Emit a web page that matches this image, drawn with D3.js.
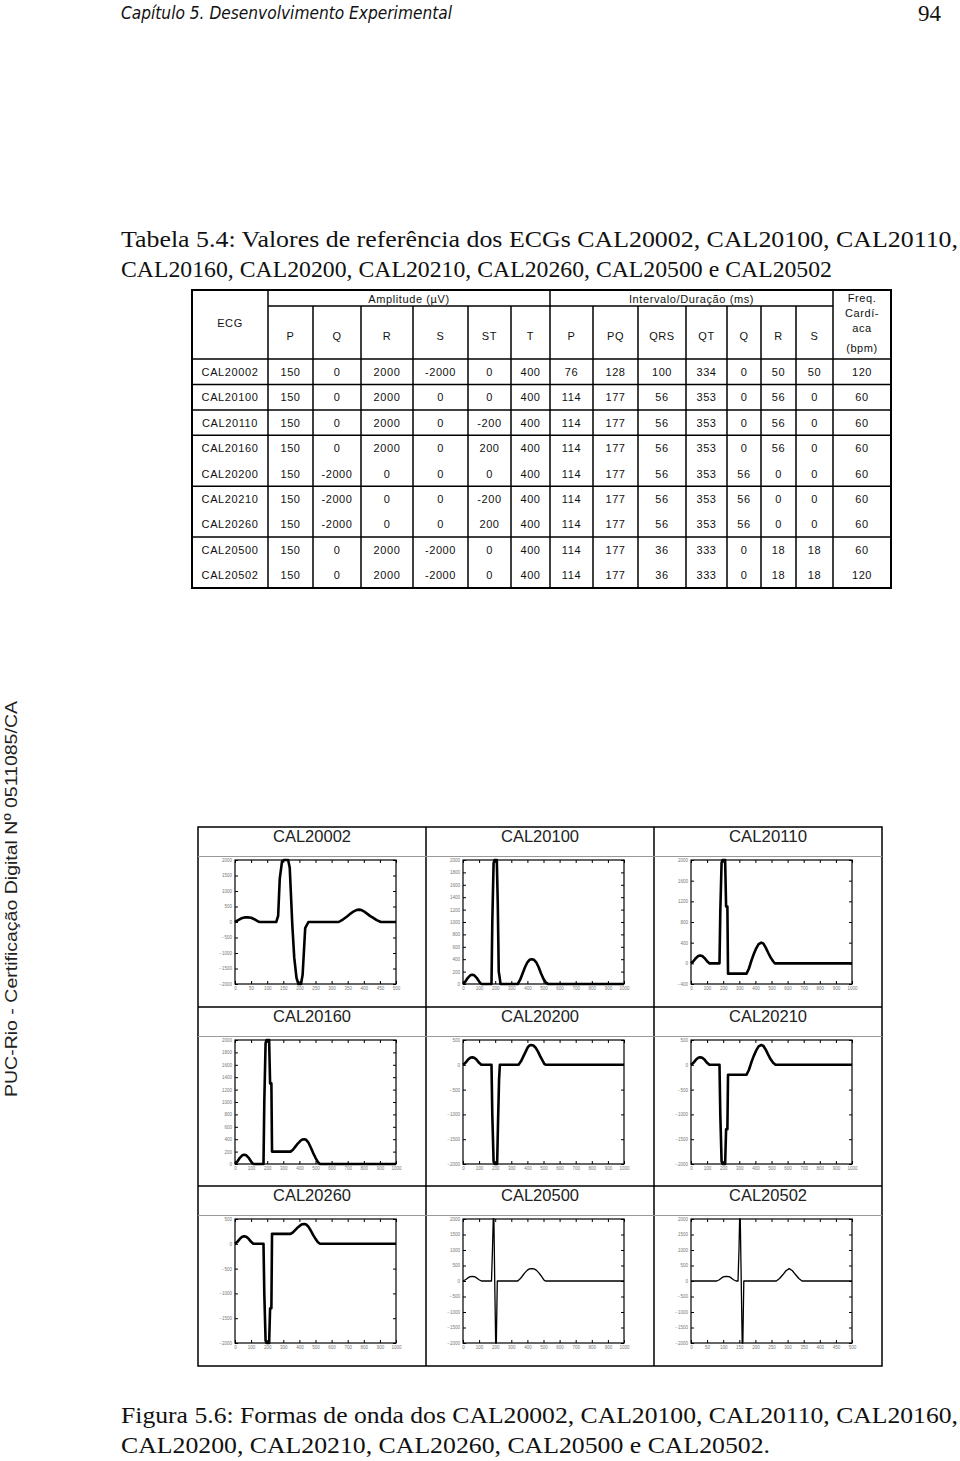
<!DOCTYPE html>
<html><head><meta charset="utf-8">
<script src="https://cdn.jsdelivr.net/npm/d3@7"></script>
<style>body{margin:0;background:#fff}svg{display:block}</style>
</head><body><svg id="c" width="960" height="1461"></svg>
<script>
// ---------------- DATA ----------------
const ecgNames = ["CAL20002","CAL20100","CAL20110","CAL20160","CAL20200","CAL20210","CAL20260","CAL20500","CAL20502"];
const ampP  = [150,150,150,150,150,150,150,150,150];
const ampQ  = [0,0,0,0,-2000,-2000,-2000,0,0];
const ampR  = [2000,2000,2000,2000,0,0,0,2000,2000];
const ampS  = [-2000,0,0,0,0,0,0,-2000,-2000];
const ampST = [0,0,-200,200,0,-200,200,0,0];
const ampT  = [400,400,400,400,400,400,400,400,400];
const durP  = [76,114,114,114,114,114,114,114,114];
const durPQ = [128,177,177,177,177,177,177,177,177];
const durQRS= [100,56,56,56,56,56,56,36,36];
const durQT = [334,353,353,353,353,353,353,333,333];
const durQ  = [0,0,0,0,56,56,56,0,0];
const durR  = [50,56,56,56,0,0,0,18,18];
const durS  = [50,0,0,0,0,0,0,18,18];
const heartRate = [120,60,60,60,60,60,60,60,120];
const ampHeaders = ["P","Q","R","S","ST","T"];
const durHeaders = ["P","PQ","QRS","QT","Q","R","S"];

// waveform panels: [time ms, amplitude uV]
const wave20002 = [[0,0],[10,60],[20,120],[30,148],[40,150],[50,135],[60,90],[70,30],[76,0],[128,0],[134,200],[139,1400],[146,1950],[152,2000],[165,2000],[170,1750],[178,-100],[184,-1150],[191,-1800],[197,-2000],[205,-2000],[210,-1700],[218,-200],[228,0],[322,0],[335,80],[348,180],[360,280],[369,345],[377,385],[385,400],[393,385],[400,345],[410,270],[420,190],[427,150],[440,60],[453,0],[500,0]];
const wave20100 = [[0,0],[15,40],[30,100],[45,140],[57,150],[70,140],[85,100],[100,40],[114,0],[177,0],[182,1000],[190,1950],[196,2000],[210,2000],[216,1300],[222,200],[228,100],[233,0],[340,0],[355,70],[370,170],[385,270],[400,350],[413,390],[427,400],[441,390],[455,350],[470,270],[485,170],[500,80],[515,20],[530,0],[1000,0]];
const wave20110 = [[0,0],[15,40],[30,100],[45,140],[57,150],[70,140],[85,100],[100,40],[114,0],[177,0],[182,1000],[190,1950],[196,2000],[212,2000],[218,1100],[226,1100],[230,-200],[345,-200],[360,-100],[375,50],[390,180],[405,290],[420,370],[437,400],[450,380],[465,300],[480,200],[495,110],[510,40],[521,0],[1000,0]];
const wave20160 = [[0,0],[15,40],[30,100],[45,140],[57,150],[70,140],[85,100],[100,40],[114,0],[177,0],[182,1000],[190,1950],[196,2000],[212,2000],[218,1300],[226,1300],[230,200],[345,200],[360,230],[375,280],[390,330],[405,370],[418,395],[430,400],[442,390],[455,350],[470,270],[485,180],[500,100],[515,30],[528,0],[1000,0]];
const wave20200 = [[0,0],[15,40],[30,100],[45,140],[57,150],[70,140],[85,100],[100,40],[114,0],[177,0],[182,-1000],[190,-1950],[196,-2000],[212,-2000],[218,-1100],[224,-300],[229,0],[345,0],[360,70],[375,170],[390,270],[402,350],[413,390],[425,400],[437,390],[450,350],[465,270],[480,170],[495,80],[505,20],[515,0],[1000,0]];
const wave20210 = [[0,0],[15,40],[30,100],[45,140],[57,150],[70,140],[85,100],[100,40],[114,0],[177,0],[182,-1000],[190,-1950],[196,-2000],[212,-2000],[218,-1300],[226,-1300],[230,-200],[345,-200],[360,-100],[375,50],[390,180],[405,290],[420,370],[437,400],[450,380],[465,300],[480,200],[495,110],[510,40],[525,0],[1000,0]];
const wave20260 = [[0,0],[15,40],[30,100],[45,140],[57,150],[70,140],[85,100],[100,40],[114,0],[177,0],[182,-1000],[190,-1950],[196,-2000],[212,-2000],[218,-1300],[226,-1300],[230,200],[345,200],[360,230],[375,280],[390,330],[405,370],[418,395],[430,400],[442,390],[455,350],[470,270],[485,180],[500,100],[515,30],[528,0],[1000,0]];
const wave20500 = [[0,0],[15,40],[30,100],[45,140],[57,150],[70,140],[85,100],[100,40],[114,0],[177,0],[183,1000],[188,2000],[192,2000],[197,0],[203,-2000],[207,-2000],[213,0],[340,0],[355,70],[370,170],[385,270],[400,350],[413,390],[427,400],[441,390],[455,350],[470,270],[485,170],[497,80],[505,20],[512,0],[1000,0]];
const wave20502 = [[0,0],[80,0],[88,40],[95,100],[102,140],[110,150],[118,140],[125,100],[132,40],[140,0],[146,0],[149,1000],[151,2000],[153,2000],[156,0],[159,-2000],[161,-2000],[164,0],[265,0],[275,80],[285,200],[295,330],[305,400],[315,330],[325,200],[335,80],[345,0],[500,0]];

const panelNames = ["CAL20002","CAL20100","CAL20110","CAL20160","CAL20200","CAL20210","CAL20260","CAL20500","CAL20502"];
const panelWaves = [wave20002,wave20100,wave20110,wave20160,wave20200,wave20210,wave20260,wave20500,wave20502];
const panelXMax  = [500,1000,1000,1000,1000,1000,1000,1000,500];
const panelXStep = [50,100,100,100,100,100,100,100,50];
const panelYMin  = [-2000,0,-400,0,-2000,-2000,-2000,-2000,-2000];
const panelYMax  = [2000,2000,2000,2000,500,500,500,2000,2000];
const panelYStep = [500,200,400,200,500,500,500,500,500];

// ---------------- DRAW ----------------
const svg = d3.select("#c");
svg.append("rect").attr("width",960).attr("height",1461).attr("fill","#fff");
const serif = "'Liberation Serif','DejaVu Serif',serif";
const sans = "'Liberation Sans',Arial,sans-serif";

// running header
svg.append("text").attr("x",121).attr("y",19).attr("font-family","'DejaVu Sans',sans-serif")
  .attr("font-style","italic").attr("font-size",17).attr("fill","#111")
  .attr("textLength",331).attr("lengthAdjust","spacingAndGlyphs")
  .text("Capítulo 5.  Desenvolvimento Experimental");
svg.append("text").attr("x",941).attr("y",21).attr("text-anchor","end").attr("font-family",serif)
  .attr("font-size",23).attr("fill","#111").text("94");

// side stamp
svg.append("text").attr("transform","translate(17,1097) rotate(-90)").attr("font-family",sans)
  .attr("font-size",17).attr("fill","#222").attr("textLength",396).attr("lengthAdjust","spacingAndGlyphs")
  .text("PUC-Rio - Certificação Digital Nº 0511085/CA");

function captionLine(text, y, w){
  svg.append("text").attr("x",121).attr("y",y).attr("font-family",serif)
    .attr("font-size",23).attr("fill","#111")
    .attr("textLength",w).attr("lengthAdjust","spacingAndGlyphs").text(text);
}
captionLine("Tabela 5.4: Valores de referência dos ECGs CAL20002, CAL20100, CAL20110,",247,837);
captionLine("CAL20160, CAL20200, CAL20210, CAL20260, CAL20500 e CAL20502",277,711);
captionLine("Figura 5.6: Formas de onda dos CAL20002, CAL20100, CAL20110, CAL20160,",1423,837);
captionLine("CAL20200, CAL20210, CAL20260, CAL20500 e CAL20502.",1453,649);

// ---------- table ----------
const colEdges = [192,268,313,361,413,468,511,550,593,638,686,727,761,796,833,891];
const tTop=290, tSub=306, tHead=359, rowH=(588-359)/9;
const tb = svg.append("g").attr("font-family",sans).attr("font-size",11).attr("fill","#111");
const rowY = i => tHead + rowH*i;
const ctr = c => (colEdges[c]+colEdges[c+1])/2;
tb.append("rect").attr("x",colEdges[0]).attr("y",tTop).attr("width",colEdges[15]-colEdges[0])
  .attr("height",rowY(9)-tTop).attr("fill","none").attr("stroke","#000").attr("stroke-width",2);
colEdges.slice(1,15).forEach((xv,i)=>{
  const c=i+1;
  const full = (c===1||c===7||c===14);
  tb.append("line").attr("x1",xv).attr("x2",xv).attr("y1",full?tTop:tSub).attr("y2",rowY(9))
    .attr("stroke","#000").attr("stroke-width",1.5);
});
tb.append("line").attr("x1",colEdges[1]).attr("x2",colEdges[14]).attr("y1",tSub).attr("y2",tSub).attr("stroke","#000").attr("stroke-width",1.5);
[0,1,2,3,5,7].forEach(r=>{
  tb.append("line").attr("x1",colEdges[0]).attr("x2",colEdges[15]).attr("y1",rowY(r)).attr("y2",rowY(r)).attr("stroke","#000").attr("stroke-width",1.5);
});
const ht = (x,y,s)=>tb.append("text").attr("x",x).attr("y",y).attr("text-anchor","middle").attr("letter-spacing",0.6).text(s);
ht((colEdges[1]+colEdges[7])/2,303,"Amplitude (µV)");
ht((colEdges[7]+colEdges[14])/2,303,"Intervalo/Duração (ms)");
ht(ctr(0),327,"ECG");
ampHeaders.forEach((h,i)=>ht(ctr(i+1),340,h));
durHeaders.forEach((h,i)=>ht(ctr(i+7),340,h));
ht(ctr(14),302,"Freq.");
ht(ctr(14),317,"Cardí-");
ht(ctr(14),332,"aca");
ht(ctr(14),352,"(bpm)");
const cols = [ecgNames,ampP,ampQ,ampR,ampS,ampST,ampT,durP,durPQ,durQRS,durQT,durQ,durR,durS,heartRate];
cols.forEach((arr,c)=>arr.forEach((v,r)=>ht(ctr(c), rowY(r)+rowH/2+4, String(v))));

// ---------- waveform grid ----------
const cellX=[198,426,654,882], cellY=[827,1007,1186,1366];
const gg = svg.append("g");
gg.append("rect").attr("x",198).attr("y",827).attr("width",684).attr("height",539).attr("fill","none").attr("stroke","#000").attr("stroke-width",1.5);
[426,654].forEach(xv=>gg.append("line").attr("x1",xv).attr("x2",xv).attr("y1",827).attr("y2",1366).attr("stroke","#000").attr("stroke-width",1.5));
[1007,1186].forEach(yv=>gg.append("line").attr("x1",198).attr("x2",882).attr("y1",yv).attr("y2",yv).attr("stroke","#000").attr("stroke-width",1.5));
[0,1,2].forEach(r=>gg.append("line").attr("x1",198).attr("x2",882).attr("y1",cellY[r]+29.5).attr("y2",cellY[r]+29.5).attr("stroke","#999").attr("stroke-width",1));

panelNames.forEach((name,i)=>{
  const col=i%3,row=Math.floor(i/3);
  const x0=cellX[col], y0=cellY[row];
  gg.append("text").attr("x",x0+114).attr("y",y0+15).attr("text-anchor","middle")
    .attr("font-family",sans).attr("font-size",16).attr("fill","#222")
    .attr("textLength",78).attr("lengthAdjust","spacingAndGlyphs").text(name);
  const pl=x0+37, pr=x0+198, pt=y0+33, pb=y0+157;
  const x=d3.scaleLinear().domain([0,panelXMax[i]]).range([pl,pr]);
  const y=d3.scaleLinear().domain([panelYMin[i],panelYMax[i]]).range([pb,pt]);
  const xt=d3.range(0,panelXMax[i]+1,panelXStep[i]);
  const yt=d3.range(panelYMin[i],panelYMax[i]+1,panelYStep[i]);
  const g=gg.append("g");
  const styleAxis = a => { a.select(".domain").remove(); a.selectAll("line").attr("stroke","#000");
    a.selectAll("text").attr("font-size",4.5).attr("fill","#777").attr("font-family",sans); };
  g.append("g").attr("transform",`translate(${pl},0)`).call(d3.axisLeft(y).tickValues(yt).tickSizeInner(-3).tickSizeOuter(0).tickPadding(3).tickFormat(d3.format("d"))).call(styleAxis);
  g.append("g").attr("transform",`translate(${pr},0)`).call(d3.axisRight(y).tickValues(yt).tickSizeInner(-3).tickSizeOuter(0).tickFormat("")).call(styleAxis);
  g.append("g").attr("transform",`translate(0,${pb})`).call(d3.axisBottom(x).tickValues(xt).tickSizeInner(-3).tickSizeOuter(0).tickPadding(3).tickFormat(d3.format("d"))).call(styleAxis);
  g.append("g").attr("transform",`translate(0,${pt})`).call(d3.axisTop(x).tickValues(xt).tickSizeInner(-3).tickSizeOuter(0).tickFormat("")).call(styleAxis);
  g.append("rect").attr("x",pl).attr("y",pt).attr("width",pr-pl).attr("height",pb-pt).attr("fill","none").attr("stroke","#000").attr("stroke-width",1.2);
  const thin = (name==="CAL20500"||name==="CAL20502");
  g.append("path").datum(panelWaves[i]).attr("fill","none").attr("stroke","#000")
    .attr("stroke-width",thin?1.3:2.6).attr("stroke-linejoin","round")
    .attr("d",d3.line().x(d=>x(d[0])).y(d=>y(d[1])));
});
</script></body></html>
